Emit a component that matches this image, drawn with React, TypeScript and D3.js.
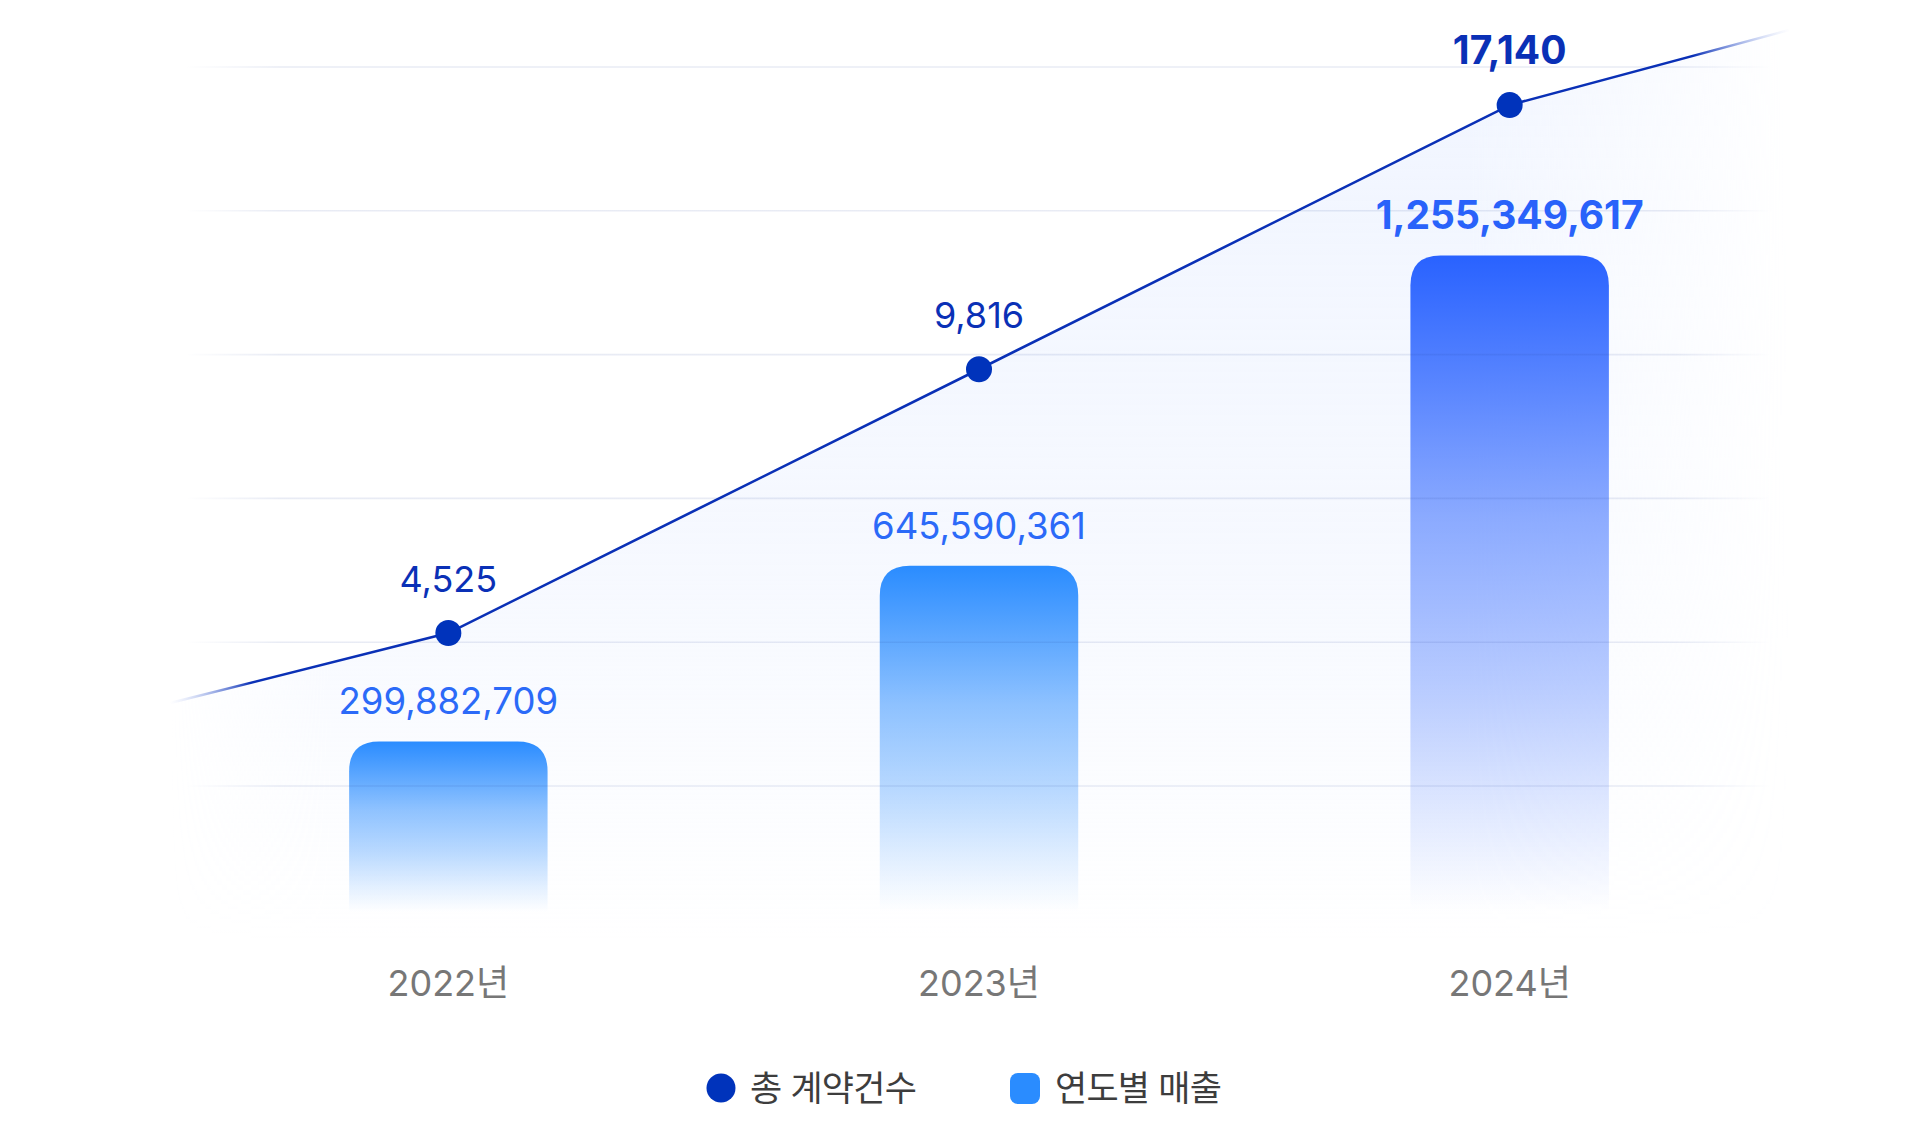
import React, { useEffect, useRef } from 'react';
import * as d3 from 'd3';

// chart data
const years = ['2022년', '2023년', '2024년'];
const contractCounts = [4525, 9816, 17140];
const annualSales = [299882709, 645590361, 1255349617];
// the count line keeps running past the first and last year to the plot edges
const lineEdgeCounts = [3460, 19600];
const legendLabels = ['총 계약건수', '연도별 매출'];
const highlightYear = '2024년';

const WIDTH = 1920;
const HEIGHT = 1137;
const FONT = "Inter, 'Noto Sans CJK KR', sans-serif";

const LINE_COLOR = '#0a30b6';
const DOT_COLOR = '#0033bb';
const BAR_COLOR = '#2a8cff';
const BAR_HI_COLOR = '#2962ff';
const BAR_LABEL_COLOR = '#2b6af8';
const BAR_LABEL_HI_COLOR = '#2962fa';

function topRoundedBar(x: number, y: number, w: number, h: number, r: number) {
  const rr = Math.min(r, w / 2, h);
  return `M${x},${y + h}V${y + rr}Q${x},${y} ${x + rr},${y}H${x + w - rr}Q${x + w},${y} ${x + w},${y + rr}V${y + h}Z`;
}

const App: React.FC = () => {
  const svgRef = useRef<SVGSVGElement>(null);

  useEffect(() => {
    if (!svgRef.current) return;
    const svg = d3.select(svgRef.current);
    svg.selectAll('*').remove();

    const left = 170;
    const right = 1790;

    const x = d3.scaleBand<string>()
      .domain(years)
      .range([left - 2, right])
      .paddingInner(0.626)
      .paddingOuter(0.3413);
    const bw = x.bandwidth();
    const cx = (d: string) => (x(d) ?? 0) + bw / 2;

    const ySales = d3.scaleLinear().domain([0, 1.4e9]).range([894, 182]);
    const yCount = d3.scaleSqrt().domain([0, 20000]).range([1191, 18]);
    const barFloor = ySales(0) + 18;
    const areaFloor = 940;

    const grid = d3.scaleLinear().domain([0, 5]).range([786, 67]);

    const defs = svg.append('defs');

    // horizontal fade used by the area
    const hMask = defs.append('linearGradient')
      .attr('id', 'hfade').attr('gradientUnits', 'userSpaceOnUse')
      .attr('x1', left).attr('x2', right).attr('y1', 0).attr('y2', 0);
    [[0, 0], [0.1, 1], [0.8, 1], [1, 0]].forEach(([o, a]) => {
      hMask.append('stop').attr('offset', o).attr('stop-color', 'white').attr('stop-opacity', a);
    });
    defs.append('mask').attr('id', 'areaMask').attr('maskUnits', 'userSpaceOnUse')
      .append('rect')
      .attr('x', 0).attr('y', 0).attr('width', WIDTH).attr('height', HEIGHT)
      .attr('fill', 'url(#hfade)');

    const areaFill = defs.append('linearGradient')
      .attr('id', 'areaFill').attr('gradientUnits', 'userSpaceOnUse')
      .attr('x1', 0).attr('x2', 0).attr('y1', yCount(lineEdgeCounts[1])).attr('y2', areaFloor);
    [[0, 0.5], [0.6, 0.3], [1, 0]].forEach(([o, a]) => {
      areaFill.append('stop').attr('offset', o).attr('stop-color', '#e2ebff').attr('stop-opacity', a);
    });

    const lineStroke = defs.append('linearGradient')
      .attr('id', 'lineStroke').attr('gradientUnits', 'userSpaceOnUse')
      .attr('x1', left).attr('x2', right).attr('y1', 0).attr('y2', 0);
    [[0, '#9fb4f0', 0], [0.05, LINE_COLOR, 1], [0.94, LINE_COLOR, 1], [1, '#9fb4f0', 0]].forEach(([o, c, a]) => {
      lineStroke.append('stop').attr('offset', o as number).attr('stop-color', c as string).attr('stop-opacity', a as number);
    });

    const gridStroke = defs.append('linearGradient')
      .attr('id', 'gridStroke').attr('gradientUnits', 'userSpaceOnUse')
      .attr('x1', 185).attr('x2', 1772).attr('y1', 0).attr('y2', 0);
    [[0, 0], [0.06, 1], [0.94, 1], [1, 0]].forEach(([o, a]) => {
      gridStroke.append('stop').attr('offset', o).attr('stop-color', '#1e3c96').attr('stop-opacity', (a as number) * 0.1);
    });

    years.forEach((yr, i) => {
      const g = defs.append('linearGradient')
        .attr('id', `bar${i}`).attr('x1', 0).attr('x2', 0).attr('y1', 0).attr('y2', 1);
      const c = yr === highlightYear ? BAR_HI_COLOR : BAR_COLOR;
      [[0, 1], [0.4, 0.52], [0.65, 0.32], [0.85, 0.13], [1, 0]].forEach(([o, a]) => {
        g.append('stop').attr('offset', o).attr('stop-color', c).attr('stop-opacity', a);
      });
    });

    // line nodes: left edge, each year, right edge
    const nodes: [number, number][] = [
      [left, lineEdgeCounts[0]],
      ...years.map((yr, i) => [cx(yr), contractCounts[i]] as [number, number]),
      [right, lineEdgeCounts[1]],
    ];

    // area under the line
    svg.append('path')
      .attr('d', d3.area<[number, number]>()
        .x(d => d[0])
        .y0(areaFloor)
        .y1(d => yCount(d[1]))(nodes))
      .attr('fill', 'url(#areaFill)')
      .attr('mask', 'url(#areaMask)');

    // bars
    svg.append('g').selectAll('path')
      .data(years)
      .join('path')
      .attr('d', (yr, i) => {
        const top = ySales(annualSales[i]);
        return topRoundedBar(x(yr) ?? 0, top, bw, barFloor - top, 30);
      })
      .attr('fill', (_, i) => `url(#bar${i})`);

    // grid lines
    svg.append('g').selectAll('line')
      .data(d3.range(6))
      .join('line')
      .attr('x1', 185).attr('x2', 1772)
      .attr('y1', d => grid(d)).attr('y2', d => grid(d))
      .attr('stroke', 'url(#gridStroke)')
      .attr('stroke-width', 1.6);

    // count line
    svg.append('path')
      .attr('d', d3.line<[number, number]>().x(d => d[0]).y(d => yCount(d[1]))(nodes))
      .attr('fill', 'none')
      .attr('stroke', 'url(#lineStroke)')
      .attr('stroke-width', 2.6);

    svg.append('g').selectAll('circle')
      .data(years)
      .join('circle')
      .attr('cx', d => cx(d))
      .attr('cy', (_, i) => yCount(contractCounts[i]))
      .attr('r', 13)
      .attr('fill', DOT_COLOR);

    // count labels
    svg.append('g').selectAll('text')
      .data(years)
      .join('text')
      .attr('x', d => cx(d))
      .attr('y', (_, i) => yCount(contractCounts[i]) - 41)
      .attr('text-anchor', 'middle')
      .attr('font-family', FONT)
      .attr('font-size', d => (d === highlightYear ? 39 : 36))
      .attr('font-weight', d => (d === highlightYear ? 700 : 400))
      .attr('fill', LINE_COLOR)
      .text((_, i) => d3.format(',')(contractCounts[i]));

    // sales labels
    svg.append('g').selectAll('text')
      .data(years)
      .join('text')
      .attr('x', d => cx(d))
      .attr('y', (_, i) => ySales(annualSales[i]) - 27)
      .attr('text-anchor', 'middle')
      .attr('font-family', FONT)
      .attr('font-size', d => (d === highlightYear ? 39 : 36.5))
      .attr('font-weight', d => (d === highlightYear ? 700 : 400))
      .attr('fill', d => (d === highlightYear ? BAR_LABEL_HI_COLOR : BAR_LABEL_COLOR))
      .text((_, i) => d3.format(',')(annualSales[i]));

    // x axis labels
    svg.append('g').selectAll('text')
      .data(years)
      .join('text')
      .attr('x', d => cx(d))
      .attr('y', 996)
      .attr('text-anchor', 'middle')
      .attr('font-family', FONT)
      .attr('font-size', 36)
      .attr('fill', '#777777')
      .text(d => d);

    // legend
    const legend = svg.append('g').attr('transform', 'translate(706,1088)');
    const item0 = legend.append('g');
    item0.append('circle').attr('cx', 15).attr('cy', 0).attr('r', 14.5).attr('fill', DOT_COLOR);
    item0.append('text')
      .attr('x', 44).attr('y', 13)
      .attr('font-family', FONT).attr('font-size', 35).attr('letter-spacing', -0.8)
      .attr('fill', '#3d3d3d')
      .text(legendLabels[0]);
    const item1 = legend.append('g').attr('transform', 'translate(304,0)');
    item1.append('rect')
      .attr('x', 0).attr('y', -15).attr('width', 30).attr('height', 31).attr('rx', 8)
      .attr('fill', BAR_COLOR);
    item1.append('text')
      .attr('x', 45).attr('y', 13)
      .attr('font-family', FONT).attr('font-size', 35).attr('letter-spacing', -0.8)
      .attr('fill', '#3d3d3d')
      .text(legendLabels[1]);
  }, []);

  return (
    <svg
      ref={svgRef}
      width={WIDTH}
      height={HEIGHT}
      style={{ position: 'absolute', left: 0, top: 0, background: '#ffffff' }}
    />
  );
};

export default App;
